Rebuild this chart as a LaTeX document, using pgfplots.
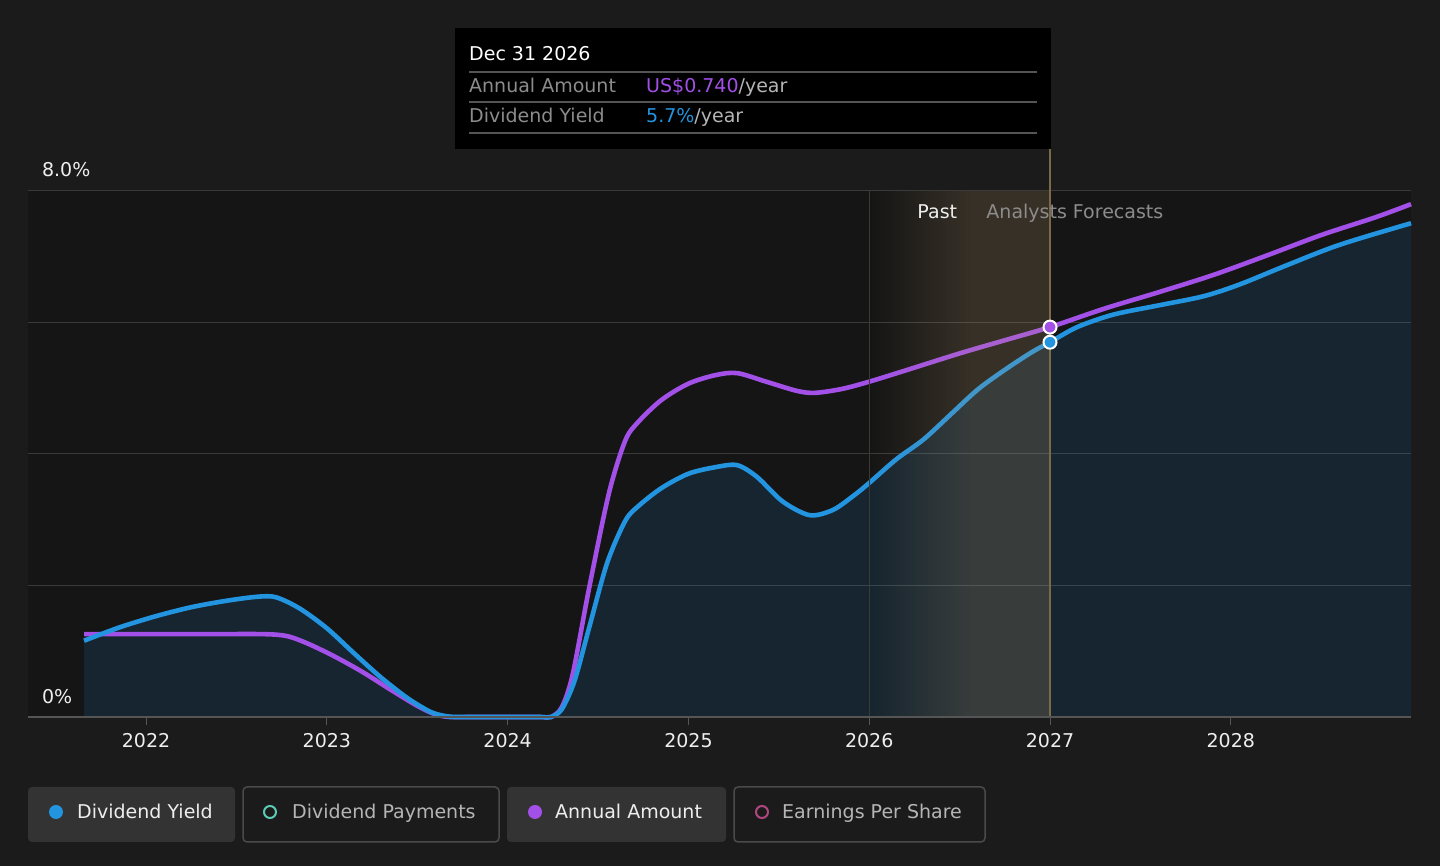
\documentclass[border=0pt]{standalone}
\usepackage{fontspec}
\setmainfont{DejaVu Sans}
\usepackage{pgfplots}
\usepackage{pgfplotstable}
\pgfplotsset{compat=1.18}
\usetikzlibrary{fadings}
\definecolor{bgc}{HTML}{1B1B1B}
\definecolor{plotbg}{HTML}{151515}
\definecolor{dyblue}{HTML}{2394DF}
\definecolor{aapurple}{HTML}{A250E8}
\definecolor{gridc}{HTML}{3A3A3A}
\definecolor{axc}{HTML}{555555}
\definecolor{pastc}{HTML}{C0A070}
\definecolor{pastline}{HTML}{3E3A30}
\definecolor{vlinec}{HTML}{7A6A45}
\definecolor{dpteal}{HTML}{5CC9B4}
\definecolor{epspink}{HTML}{B0467E}
\definecolor{txtw}{HTML}{EEEEEE}
\definecolor{txtg}{HTML}{8C8C8C}
\definecolor{txtl}{HTML}{B5B5B5}
\definecolor{legact}{HTML}{333333}
\definecolor{legbord}{HTML}{4A4A4A}
\tikzfading[name=pastfade, left color=transparent!100, right color=transparent!0]

\pgfplotstableread{
x y
2021.657 1.16
2021.85 1.36
2022.05 1.53
2022.25 1.67
2022.45 1.77
2022.62 1.83
2022.72 1.82
2022.85 1.65
2023.0 1.35
2023.15 0.97
2023.3 0.60
2023.45 0.28
2023.58 0.07
2023.68 0.005
2023.78 0
2024.0 0
2024.18 0
2024.24 0
2024.30 0.12
2024.37 0.55
2024.45 1.35
2024.55 2.34
2024.65 2.98
2024.72 3.20
2024.85 3.48
2025.0 3.70
2025.15 3.80
2025.27 3.83
2025.38 3.65
2025.52 3.28
2025.67 3.07
2025.80 3.15
2025.92 3.38
2026.0 3.56
2026.15 3.92
2026.3 4.22
2026.45 4.60
2026.6 4.98
2026.75 5.28
2026.9 5.55
2027.0 5.70
2027.15 5.93
2027.35 6.12
2027.6 6.26
2027.85 6.40
2028.05 6.58
2028.3 6.86
2028.6 7.18
2028.997 7.51
}\yieldtable

\pgfplotstableread{
x y
2021.657 1.26
2022.0 1.26
2022.35 1.26
2022.65 1.26
2022.78 1.23
2022.9 1.11
2023.05 0.91
2023.2 0.68
2023.35 0.42
2023.5 0.17
2023.6 0.04
2023.68 0
2023.8 0
2024.0 0
2024.18 0
2024.24 0
2024.30 0.15
2024.36 0.65
2024.45 1.95
2024.56 3.40
2024.65 4.20
2024.72 4.48
2024.85 4.82
2025.0 5.07
2025.15 5.20
2025.27 5.23
2025.43 5.10
2025.6 4.96
2025.7 4.93
2025.85 4.99
2026.0 5.10
2026.2 5.27
2026.5 5.53
2026.75 5.73
2027.0 5.93
2027.3 6.21
2027.6 6.46
2027.9 6.72
2028.2 7.02
2028.5 7.33
2028.8 7.60
2028.997 7.80
}\amounttable

\newcommand{\fs}{\fontsize{19}{23}\selectfont}

\begin{document}
\begin{tikzpicture}[x=1pt,y=1pt]
\fill[bgc] (0,0) rectangle (1440,866);
\fill[plotbg] (28,149) rectangle (1411,675);
\begin{axis}[
  at={(28pt,149pt)}, anchor=south west, scale only axis,
  width=1383pt, height=526pt,
  xmin=2021.347, xmax=2028.997, ymin=0, ymax=8,
  clip=false,
  axis line style={draw=none},
  xtick={2022,2023,2024,2025,2026,2027,2028},
  xticklabels={2022,2023,2024,2025,2026,2027,2028},
  xtick pos=lower,
  xticklabel style={font=\fs, text=txtw, inner sep=0pt, yshift=-8pt},
  tick align=outside, major tick length=8pt,
  xtick style={draw=axc, line width=1pt},
  ytick={0,2,4,6,8}, yticklabels={},
  ytick style={draw=none},
  ymajorgrids,
  major grid style={draw=gridc, line width=1pt},
]
\addplot[draw=none, fill=dyblue, fill opacity=0.13, smooth, tension=0.5] table {\yieldtable} \closedcycle;
\addplot[aapurple, line width=4.6pt, smooth, tension=0.5] table {\amounttable};
\addplot[dyblue, line width=4.6pt, smooth, tension=0.5] table {\yieldtable};

\fill[pastc, fill opacity=0.2, path fading=pastfade] (axis cs:2026,0) rectangle (axis cs:2026.57,8);
\fill[pastc, fill opacity=0.2] (axis cs:2026.57,0) rectangle (axis cs:2027,8);
\draw[pastline, line width=1pt] (axis cs:2026,0) -- (axis cs:2026,8);
\draw[vlinec, line width=1.5pt] (axis cs:2027,0) -- (axis cs:2027,8.64);
\draw[axc, line width=1.5pt] (axis cs:2021.347,0) -- (axis cs:2028.997,0);

\addplot[only marks, mark=*, mark size=6.5pt, mark options={fill=aapurple, draw=white, line width=2pt}] coordinates {(2027,5.93)};
\addplot[only marks, mark=*, mark size=6.5pt, mark options={fill=dyblue, draw=white, line width=2pt}] coordinates {(2027,5.70)};

\node[anchor=base east, text=txtw, font=\fs, inner sep=0pt, xshift=-15pt] at (axis cs:2026.57,7.58) {Past};
\node[anchor=base west, text=txtg, font=\fs, inner sep=0pt, xshift=14pt] at (axis cs:2026.57,7.58) {Analysts Forecasts};
\node[anchor=base west, text=txtw, font=\fs, inner sep=0pt] at (axis cs:2021.424,8.22) {8.0\%};
\node[anchor=base west, text=txtw, font=\fs, inner sep=0pt] at (axis cs:2021.424,0.205) {0\%};
\end{axis}

% tooltip
\fill[black] (455,717) rectangle (1051,838);
\draw[axc, line width=1.5pt] (469,794) -- (1037,794);
\draw[axc, line width=1.5pt] (469,764) -- (1037,764);
\draw[axc, line width=1.5pt] (469,733) -- (1037,733);
\node[anchor=base west, inner sep=0pt, text=white, font=\fs] at (469,805.5) {Dec 31 2026};
\node[anchor=base west, inner sep=0pt, text=txtg, font=\fs] at (469,773.5) {Annual Amount};
\node[anchor=base west, inner sep=0pt, font=\fs] at (646,773.5) {\textcolor{aapurple}{US\$0.740}\textcolor{txtl}{/year}};
\node[anchor=base west, inner sep=0pt, text=txtg, font=\fs] at (469,743.5) {Dividend Yield};
\node[anchor=base west, inner sep=0pt, font=\fs] at (646,743.5) {\textcolor{dyblue}{5.7\%}\textcolor{txtl}{/year}};

% legend
\fill[legact, rounded corners=4pt] (28,24) rectangle (235,79);
\draw[legbord, fill=bgc, line width=1.5pt, rounded corners=4pt] (243,24) rectangle (499,79);
\fill[legact, rounded corners=4pt] (507,24) rectangle (726,79);
\draw[legbord, fill=bgc, line width=1.5pt, rounded corners=4pt] (734,24) rectangle (985,79);
\fill[dyblue] (56,54) circle (7);
\draw[dpteal, line width=2pt] (270,54) circle (6);
\fill[aapurple] (535,54) circle (7);
\draw[epspink, line width=2pt] (762,54) circle (6);
\node[anchor=base west, inner sep=0pt, text=txtw, font=\fs] at (77,47) {Dividend Yield};
\node[anchor=base west, inner sep=0pt, text=txtl, font=\fs] at (292,47) {Dividend Payments};
\node[anchor=base west, inner sep=0pt, text=txtw, font=\fs] at (555,47) {Annual Amount};
\node[anchor=base west, inner sep=0pt, text=txtl, font=\fs] at (782,47) {Earnings Per Share};
\end{tikzpicture}
\end{document}
